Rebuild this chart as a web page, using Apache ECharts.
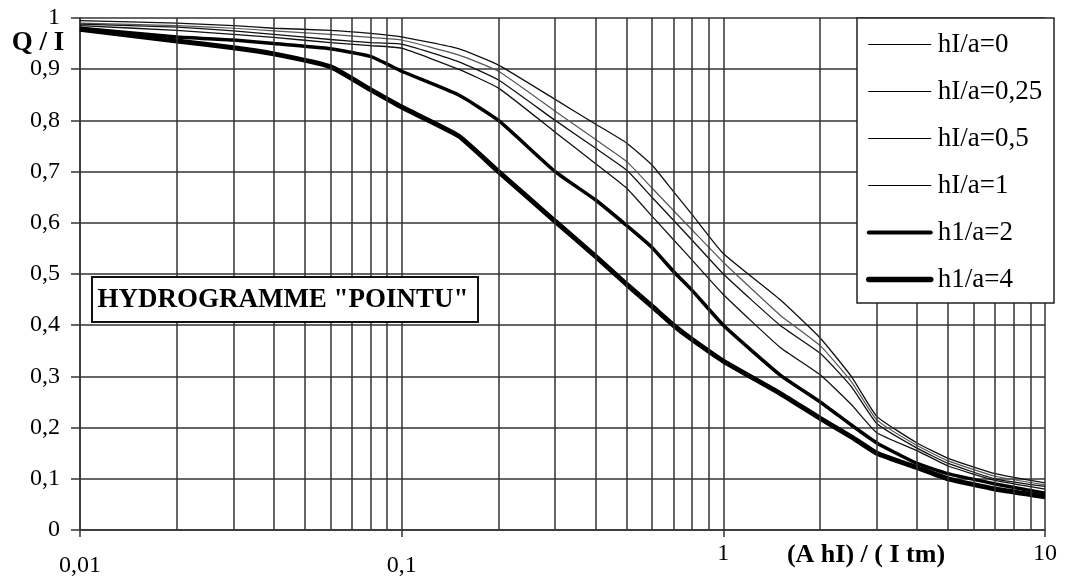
<!DOCTYPE html>
<html>
<head>
<meta charset="utf-8">
<script src="https://cdn.jsdelivr.net/npm/echarts@6/dist/echarts.min.js"></script>
<style>
  html, body { margin: 0; padding: 0; background: #fff; }
  #chart { width: 1068px; height: 587px; }
</style>
</head>
<body>
<div id="chart"></div>
<script>
// x = (A hI) / (I tm), log scale
const xValues = [0.01, 0.02, 0.03, 0.04, 0.06, 0.08, 0.1, 0.15, 0.2, 0.3, 0.4, 0.5, 0.6, 0.7, 0.8, 1, 1.5, 2, 2.5, 3, 4, 5, 7, 10]

// Q / I for each hI/a
const h0   = [0.995, 0.99, 0.985, 0.98, 0.976, 0.97, 0.963, 0.94, 0.908, 0.841, 0.793, 0.756, 0.713, 0.661, 0.616, 0.54, 0.45, 0.375, 0.30, 0.222, 0.17, 0.14, 0.11, 0.092]
const h025 = [0.99, 0.985, 0.98, 0.975, 0.968, 0.962, 0.957, 0.928, 0.896, 0.818, 0.763, 0.72, 0.668, 0.624, 0.586, 0.523, 0.42, 0.36, 0.29, 0.215, 0.165, 0.135, 0.105, 0.088]
const h05  = [0.988, 0.982, 0.975, 0.968, 0.958, 0.952, 0.949, 0.915, 0.879, 0.80, 0.746, 0.703, 0.65, 0.605, 0.566, 0.50, 0.40, 0.345, 0.28, 0.208, 0.16, 0.13, 0.10, 0.085]
const h1   = [0.985, 0.976, 0.968, 0.962, 0.952, 0.946, 0.941, 0.90, 0.863, 0.777, 0.716, 0.668, 0.613, 0.567, 0.527, 0.46, 0.357, 0.303, 0.245, 0.19, 0.155, 0.125, 0.097, 0.08]
const h2   = [0.98, 0.963, 0.957, 0.95, 0.94, 0.925, 0.896, 0.85, 0.80, 0.70, 0.645, 0.595, 0.552, 0.505, 0.468, 0.40, 0.303, 0.25, 0.205, 0.17, 0.13, 0.11, 0.09, 0.072]
const h4   = [0.978, 0.955, 0.942, 0.93, 0.905, 0.86, 0.826, 0.77, 0.70, 0.603, 0.535, 0.48, 0.437, 0.40, 0.372, 0.33, 0.267, 0.218, 0.182, 0.15, 0.122, 0.10, 0.08, 0.065]

const names = ['hI/a=0', 'hI/a=0,25', 'hI/a=0,5', 'hI/a=1', 'h1/a=2', 'h1/a=4']
const curves = [h0, h025, h05, h1, h2, h4]
const widths = [1.3, 1.2, 1.3, 1.3, 3.5, 5]
const colors = ['#111', '#555', '#111', '#111', '#000', '#000']
const legendWidths = [1.2, 1.2, 1.2, 1.2, 4, 5.5]

// minor log gridlines 2..9 in each decade
const decades = [0.01, 0.1, 1]
const minorGrid = []
decades.forEach(d => { for (let k = 2; k <= 9; k++) minorGrid.push(+(d * k).toPrecision(3)) })

const serif = 'Liberation Serif'
const gridColor = '#333'

const chart = echarts.init(document.getElementById('chart'))

const series = curves.map((c, i) => ({
  name: names[i],
  type: 'line',
  data: xValues.map((x, j) => [x, c[j]]),
  symbol: 'none',
  showSymbol: false,
  smooth: 0.15,
  z: 3,
  lineStyle: { color: colors[i], width: widths[i] },
  itemStyle: { color: colors[i] }
}))

// minor vertical gridlines
series.push({
  name: 'grid',
  type: 'line',
  data: [],
  z: 1,
  markLine: {
    silent: true,
    symbol: 'none',
    label: { show: false },
    lineStyle: { color: gridColor, width: 1.5, type: 'solid' },
    data: minorGrid.map(v => ({ xAxis: v }))
  }
})

chart.setOption({
  animation: false,
  backgroundColor: '#fff',
  grid: { left: 80, right: 23, top: 18, bottom: 57 },
  xAxis: {
    type: 'log',
    logBase: 10,
    min: 0.01,
    max: 10,
    axisLine: { lineStyle: { color: gridColor, width: 1.5 } },
    axisTick: { show: true, length: 7, lineStyle: { color: gridColor, width: 1.5 } },
    splitLine: { show: true, lineStyle: { color: gridColor, width: 1.5 } },
    axisLabel: {
      margin: 12,
      fontFamily: serif,
      fontSize: 24,
      color: '#000',
      formatter: v => {
        const s = String(Number(v.toPrecision(3))).replace('.', ',')
        return v < 1 ? '{lo|' + s + '}' : '{hi|' + s + '}'
      },
      rich: {
        lo: { fontFamily: serif, fontSize: 24, color: '#000', padding: [12, 0, 0, 0] },
        hi: { fontFamily: serif, fontSize: 24, color: '#000' }
      }
    }
  },
  yAxis: {
    type: 'value',
    min: 0,
    max: 1,
    interval: 0.1,
    axisLine: { show: true, lineStyle: { color: gridColor, width: 1.5 } },
    axisTick: { show: true, length: 9, lineStyle: { color: gridColor, width: 1.5 } },
    splitLine: { show: true, lineStyle: { color: gridColor, width: 1.5 } },
    axisLabel: {
      margin: 20,
      fontFamily: serif,
      fontSize: 24,
      color: '#000',
      formatter: v => String(Math.round(v * 10) / 10).replace('.', ',')
    }
  },
  legend: {
    data: names.map((n, i) => ({
      name: n,
      itemStyle: { opacity: 0 },
      lineStyle: { color: '#000', width: legendWidths[i], cap: 'round' }
    })),
    orient: 'vertical',
    left: 866,
    top: 31,
    padding: 0,
    itemWidth: 62,
    itemHeight: 22,
    itemGap: 20,
    z: 120,
    itemStyle: { opacity: 0 },
    textStyle: { fontFamily: serif, fontSize: 27, color: '#000', padding: [0, 0, 0, 2] }
  },
  graphic: [
    {
      type: 'rect',
      z: 100,
      shape: { x: 857, y: 18, width: 197, height: 285 },
      style: { fill: '#fff', stroke: '#222', lineWidth: 1.5 }
    },
    {
      type: 'rect',
      z: 100,
      shape: { x: 92, y: 277, width: 386, height: 45 },
      style: { fill: '#fff', stroke: '#111', lineWidth: 2 }
    },
    {
      type: 'text',
      z: 101,
      x: 283,
      y: 300,
      style: {
        text: 'HYDROGRAMME "POINTU"',
        font: 'bold 27px "Liberation Serif"',
        fill: '#000',
        align: 'center',
        verticalAlign: 'middle'
      }
    },
    {
      type: 'text',
      z: 101,
      x: 38,
      y: 43,
      style: {
        text: 'Q / I',
        font: 'bold 27px "Liberation Serif"',
        fill: '#000',
        align: 'center',
        verticalAlign: 'middle'
      }
    },
    {
      type: 'text',
      z: 101,
      x: 866,
      y: 555,
      style: {
        text: '(A hI) / ( I tm)',
        font: 'bold 26px "Liberation Serif"',
        fill: '#000',
        align: 'center',
        verticalAlign: 'middle'
      }
    }
  ],
  series
})
</script>
</body>
</html>
